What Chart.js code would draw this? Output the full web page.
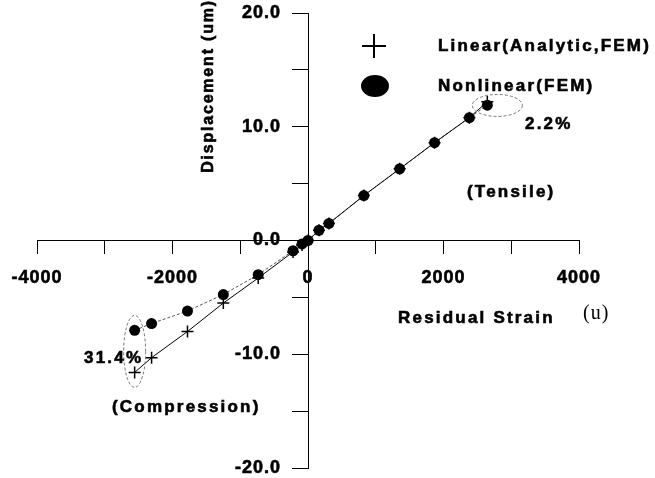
<!DOCTYPE html>
<html>
<head>
<meta charset="utf-8">
<script src="https://cdn.jsdelivr.net/npm/chart.js@4.4.1/dist/chart.umd.min.js"></script>
<style>
  html, body { margin: 0; padding: 0; background: #fff; }
  #wrap { width: 655px; height: 478px; }
</style>
</head>
<body>
<div id="wrap"><canvas id="chart"></canvas></div>
<script>
// residual strain (u) and displacement (um)
const strain = [-2559, -2309, -1779, -1250, -735, -221, -88, 0, 162, 309, 824, 1353, 1868, 2382, 2647];
const linearDisp = [-11.6, -10.3, -8.0, -5.5, -3.3, -1.0, -0.4, 0, 0.9, 1.5, 3.95, 6.3, 8.6, 10.8, 12.2];
const nonlinearDisp = [-7.9, -7.3, -6.2, -4.75, -3.0, -0.9, -0.3, 0, 0.9, 1.5, 3.95, 6.3, 8.6, 10.8, 11.9];

const seriesNames = ['Linear(Analytic,FEM)', 'Nonlinear(FEM)'];
const xTickLabels = ['-4000', '-2000', '0', '2000', '4000'];
const yTickValues = [-20, -10, 0, 10, 20];
const yTickLabels = ['-20.0', '-10.0', '0.0', '10.0', '20.0'];

const FAMILY = '"Liberation Sans", Arial, sans-serif';
const FONT = 'bold 17px ' + FAMILY;

function pts(ys) {
    return strain.map((x, i) => ({ x: x, y: ys[i] }));
}

// bold text with wide letter spacing, slightly thickened like the scan
function spacedText(ctx, txt, x, y, align, font, spacing) {
    ctx.save();
    ctx.font = font || FONT;
    ctx.letterSpacing = (spacing === undefined ? 2.2 : spacing) + 'px';
    ctx.fillStyle = '#000';
    ctx.strokeStyle = '#000';
    ctx.lineWidth = 0.6;
    ctx.textAlign = align || 'left';
    ctx.textBaseline = 'middle';
    ctx.fillText(txt, x, y);
    ctx.strokeText(txt, x, y);
    ctx.restore();
}

const decorations = {
    id: 'decorations',
    beforeDraw(chart) {
        chart.ctx.letterSpacing = '1px';
    },
    afterDraw(chart) {
        const ctx = chart.ctx;
        const xs = chart.scales.x;
        const ys = chart.scales.y;
        const last = strain.length - 1;

        // y tick labels, left of the crossing axis
        const axisX = xs.getPixelForValue(0);
        yTickValues.forEach((v, i) => {
            spacedText(ctx, yTickLabels[i], axisX - 27, ys.getPixelForValue(v), 'right', 'bold 18px ' + FAMILY, 1);
        });

        // dashed ellipses round the end points
        ctx.save();
        ctx.strokeStyle = '#777';
        ctx.lineWidth = 1;
        ctx.setLineDash([3, 2]);
        ctx.beginPath();
        ctx.ellipse(xs.getPixelForValue(strain[last]) + 10,
            (ys.getPixelForValue(linearDisp[last]) + ys.getPixelForValue(nonlinearDisp[last])) / 2 + 2,
            25, 11, 0, 0, Math.PI * 2);
        ctx.stroke();
        ctx.beginPath();
        ctx.ellipse(xs.getPixelForValue(strain[0]),
            (ys.getPixelForValue(linearDisp[0]) + ys.getPixelForValue(nonlinearDisp[0])) / 2,
            11, 36, 0, 0, Math.PI * 2);
        ctx.stroke();
        ctx.restore();

        // legend
        ctx.save();
        ctx.strokeStyle = '#000';
        ctx.lineWidth = 2;
        ctx.beginPath();
        ctx.moveTo(362, 46); ctx.lineTo(386, 46);
        ctx.moveTo(374, 34); ctx.lineTo(374, 58);
        ctx.stroke();
        ctx.fillStyle = '#000';
        ctx.beginPath();
        ctx.ellipse(375, 86, 14, 11, 0, 0, Math.PI * 2);
        ctx.fill();
        ctx.restore();
        spacedText(ctx, seriesNames[0], 438, 46);
        spacedText(ctx, seriesNames[1], 438, 86);

        // notes
        spacedText(ctx, '2.2%', 525, 124);
        spacedText(ctx, '(Tensile)', 467, 192);
        spacedText(ctx, '31.4%', 84, 358);
        spacedText(ctx, '(Compression)', 112, 407);

        // axis titles
        spacedText(ctx, 'Residual Strain', 398, 318);
        ctx.save();
        ctx.font = '20px "Liberation Serif", "Times New Roman", serif';
        ctx.fillStyle = '#000';
        ctx.textBaseline = 'middle';
        ctx.fillText('(u)', 583, 314);
        ctx.restore();

        ctx.save();
        ctx.translate(209, 86);
        ctx.rotate(-Math.PI / 2);
        spacedText(ctx, 'Displacement (um)', 0, 0, 'center', 'bold 16px ' + FAMILY, 1.8);
        ctx.restore();
    }
};

new Chart(document.getElementById('chart'), {
    type: 'scatter',
    data: {
        datasets: [
            {
                label: seriesNames[0],
                data: pts(linearDisp),
                showLine: true,
                borderColor: '#000',
                borderWidth: 1,
                pointStyle: 'cross',
                pointRadius: 6,
                pointBorderWidth: 1.5,
                pointBorderColor: '#000',
                order: 0,
            },
            {
                label: seriesNames[1],
                data: pts(nonlinearDisp),
                showLine: true,
                borderColor: '#555',
                borderWidth: 1,
                borderDash: [3, 2],
                pointStyle: 'circle',
                pointRadius: 5.5,
                pointBackgroundColor: '#000',
                pointBorderColor: '#000',
                pointBorderWidth: 0,
                order: 1,
            },
        ],
    },
    options: {
        responsive: true,
        maintainAspectRatio: false,
        animation: false,
        layout: { padding: { left: 35, right: 76, top: 13, bottom: 10 } },
        plugins: {
            legend: { display: false },
            tooltip: { enabled: false },
        },
        scales: {
            x: {
                type: 'linear',
                position: { y: 0 },
                min: -4000,
                max: 4000,
                grid: { drawOnChartArea: false, drawTicks: true, tickLength: 13, color: '#000' },
                border: { color: '#000', width: 1 },
                ticks: {
                    stepSize: 1000,
                    padding: 14,
                    color: '#000',
                    textStrokeColor: '#000',
                    textStrokeWidth: 0.6,
                    font: { family: FAMILY, size: 18, weight: 'bold' },
                    maxRotation: 0,
                    autoSkip: false,
                    callback: (v) => (v % 2000 === 0 ? xTickLabels[(v + 4000) / 2000] : ''),
                },
            },
            y: {
                type: 'linear',
                position: { x: 0 },
                min: -20,
                max: 20,
                grid: { drawOnChartArea: false, drawTicks: true, tickLength: 16, color: '#000' },
                border: { color: '#000', width: 1 },
                ticks: {
                    stepSize: 5,
                    display: false,
                    autoSkip: false,
                },
            },
        },
    },
    plugins: [decorations],
});
</script>
</body>
</html>
